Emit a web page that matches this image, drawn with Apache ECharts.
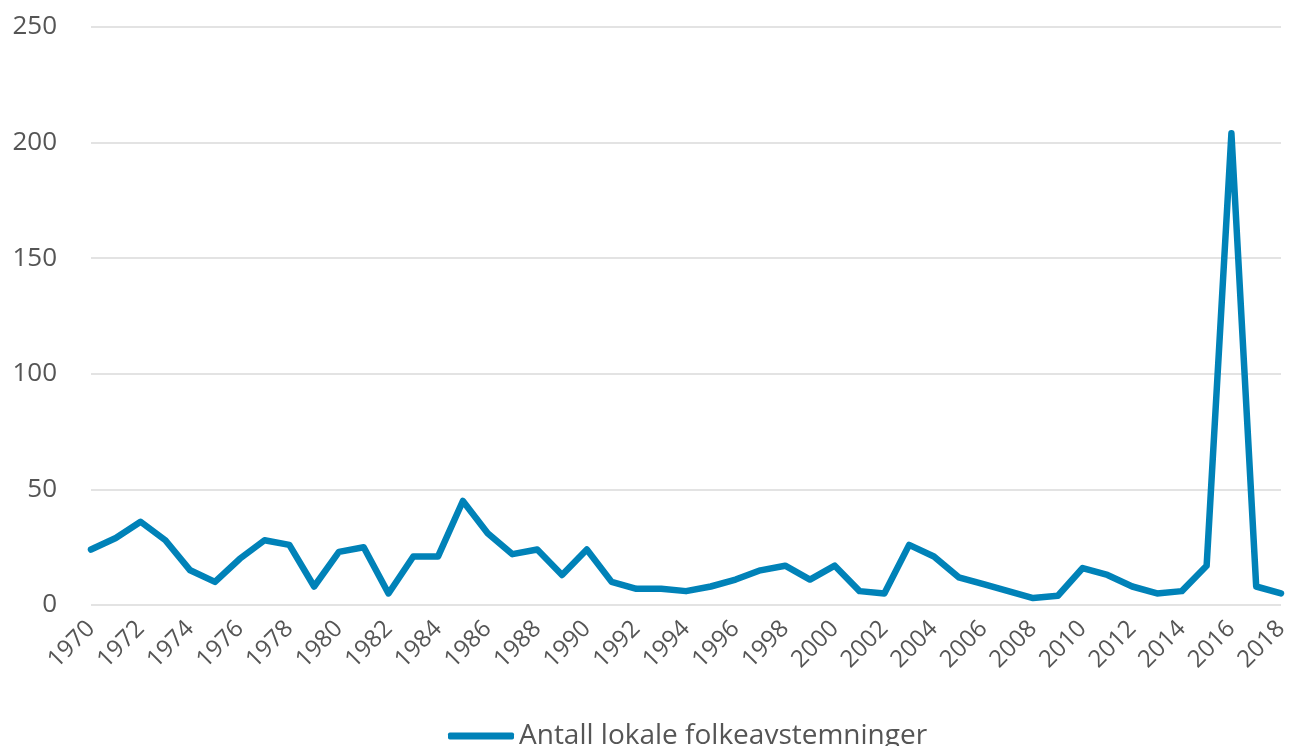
<!DOCTYPE html>
<html lang="no" style="height: 100%">
<head>
  <meta charset="utf-8">
</head>
<body style="height: 100%; margin: 0">
  <div id="container" style="width: 1293px; height: 746px"></div>
  <script type="text/javascript" src="https://cdn.jsdelivr.net/npm/echarts@6/dist/echarts.min.js"></script>
  <script type="text/javascript">
    // years 1970-2018
    var years = [];
    for (var y = 1970; y <= 2018; y++) years.push(String(y));

    var seriesName = 'Antall lokale folkeavstemninger';
    var counts = [
      24, 29, 36, 28, 15, 10, 20, 28, 26, 8,
      23, 25, 5, 21, 21, 45, 31, 22, 24, 13,
      24, 10, 7, 7, 6, 8, 11, 15, 17, 11,
      17, 6, 5, 26, 21, 12, 9, 6, 3, 4,
      16, 13, 8, 5, 6, 17, 204, 8, 5
    ];

    var dom = document.getElementById('container');
    var myChart = echarts.init(dom, null, { renderer: 'canvas' });

    var option = {
      textStyle: { fontFamily: 'Open Sans' },
      grid: { left: 91, right: 12, top: 27, bottom: 141, containLabel: false },
      legend: {
        data: [seriesName],
        top: 717,
        left: 443,
        itemWidth: 66,
        itemHeight: 7,
        itemGap: 14,
        icon: 'roundRect',
        textStyle: { fontSize: 28, color: '#555555', fontFamily: 'Open Sans' }
      },
      xAxis: {
        type: 'category',
        data: years,
        boundaryGap: false,
        axisLine: { show: false },
        axisTick: { show: false },
        axisLabel: {
          interval: 1,
          rotate: 45,
          fontSize: 24,
          color: '#555555',
          margin: 20
        }
      },
      yAxis: {
        type: 'value',
        min: 0,
        max: 250,
        interval: 50,
        axisLine: { show: false },
        axisTick: { show: false },
        axisLabel: { fontSize: 26, color: '#555555', margin: 34 },
        splitLine: { lineStyle: { color: '#e3e3e3', width: 2 } }
      },
      series: [
        {
          name: seriesName,
          type: 'line',
          data: counts,
          symbol: 'none',
          lineStyle: { color: '#0082b8', width: 6.5, cap: 'round', join: 'round' },
          itemStyle: { color: '#0082b8' }
        }
      ]
    };

    myChart.setOption(option);
    window.addEventListener('resize', myChart.resize);
  </script>
</body>
</html>
